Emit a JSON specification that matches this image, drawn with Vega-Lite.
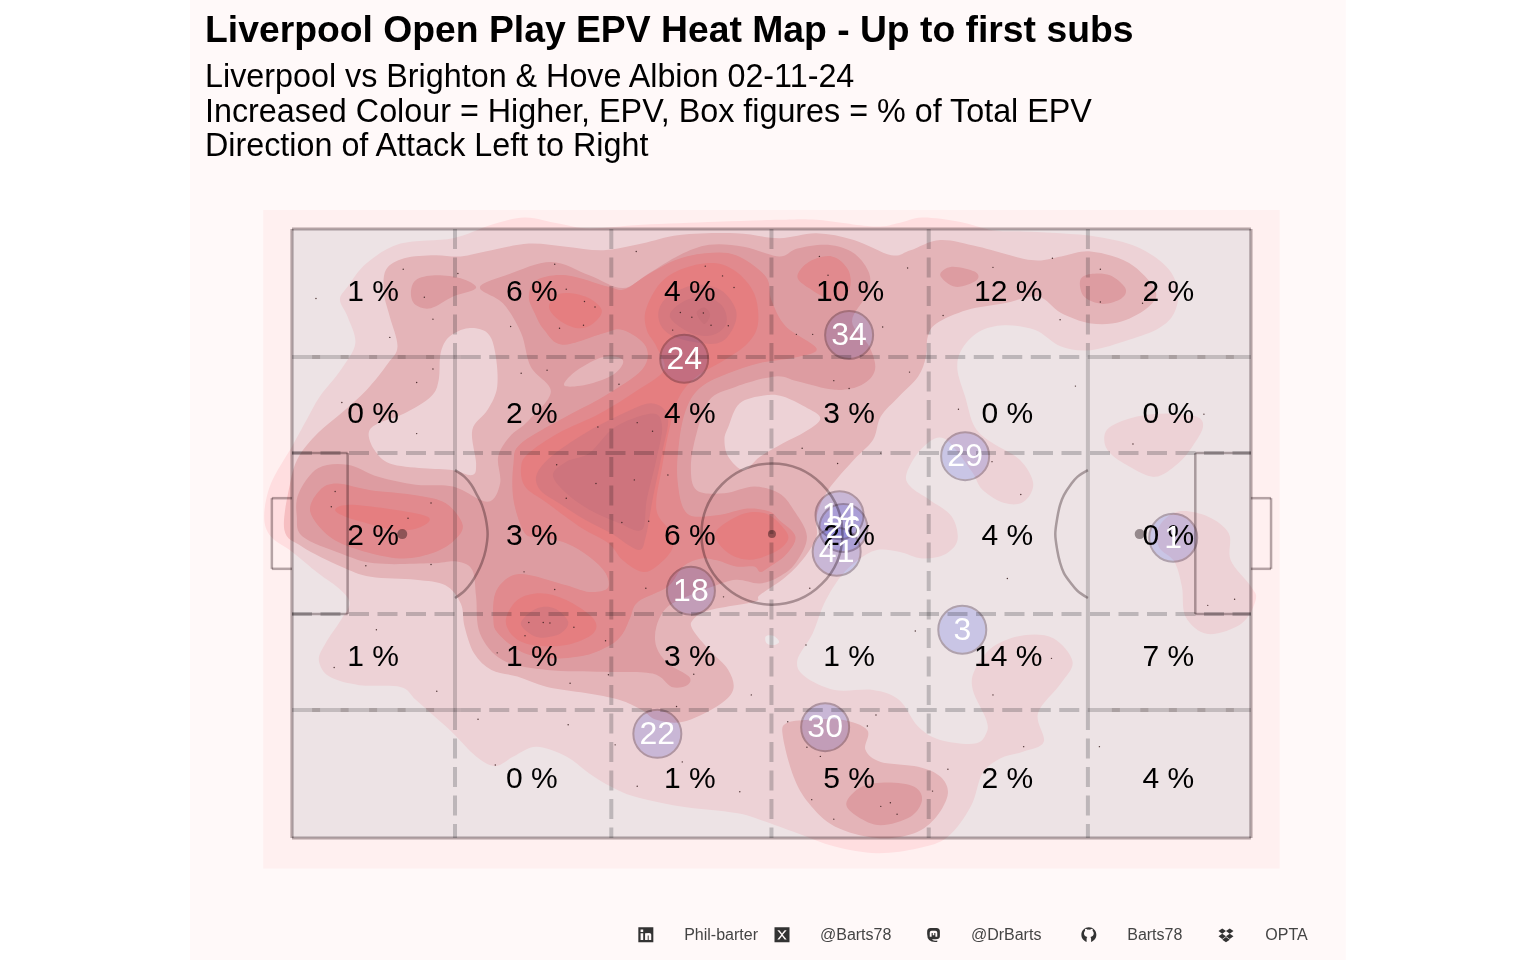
{
  "$schema": "https://vega.github.io/schema/vega-lite/v6.json",
  "width": 1536,
  "height": 960,
  "padding": 0,
  "autosize": {"type": "none"},
  "background": "#ffffff",
  "title": {
    "text": "Liverpool Open Play EPV Heat Map - Up to first subs",
    "subtitle": ["Liverpool vs Brighton & Hove Albion 02-11-24", "Increased Colour = Higher, EPV, Box figures = % of Total EPV", "Direction of Attack Left to Right"],
    "anchor": "start",
    "frame": "group",
    "dx": 205,
    "offset": -163.5,
    "font": "Liberation Sans",
    "fontSize": 37.3,
    "fontWeight": "bold",
    "color": "#000000",
    "subtitleFont": "Liberation Sans",
    "subtitleFontSize": 32.3,
    "subtitleColor": "#000000",
    "subtitleLineHeight": 34.5,
    "subtitlePadding": 10.5
  },
  "config": {"view": {"stroke": null}},
  "datasets": {
    "page": [{"x": -10.64, "x2": 109.9, "y": -20.03, "y2": 137.6}],
    "panel": [{"x": -3, "x2": 103, "y": -5, "y2": 103.1}],
    "pitch": [{"x": 0, "x2": 100, "y": 0, "y2": 100}],
    "heat": [
      {"p": "a", "l": 1, "x": [-2.9,-2.2,0,1.5,2.9,5.1,6.6,5.8,5,5.8,7.8,11.3,16.8,20.8,24.3,27.8,31,36.5,44.3,50.8,54.7,60.6,63.3,65.7,69.6,73.1,76.3,80.2,84.1,88.1,91.2,92.4,92,90.4,87.3,83.3,80.2,77.5,74.3,71.6,69.8,69.4,70.2,71.2,73.1,75.9,77.3,76.3,74.3,72,70.8,68,65.7,64.1,64.5,66.5,68.8,69.4,68,65.7,63.3,61,59,57.2,55.5,54.3,52.7,53.5,56.6,60.6,63.3,65.3,67.6,71.2,72.4,72.4,71,71.2,73.1,76.3,79.4,81.4,80.2,77.8,78.4,76.3,73.9,72,70.8,68.4,65.3,61,56.6,52.7,48.8,46.3,40.4,35.7,33.3,31,28.6,25.5,23.1,21.2,19.2,16.8,14.9,12.9,11.3,7,3.9,2.8,3.5,5.1,6,5.1,2.7,0,-2.2], "y": [52.8,58.2,64.3,68.6,72.5,76.9,81.2,85.6,88.4,90.5,94.4,97.6,98.5,100.7,101.9,100.9,100.1,100.7,101.2,101.5,101.5,100.4,101,101.9,101.2,99.8,99.6,99.3,98.7,97.1,93.8,90,86.2,83.7,81.8,80.1,80.7,83.4,84.2,83.1,80.1,76.9,72.5,67.5,64.8,62.1,58.2,55.2,55,57.2,60.4,65.6,64,59.9,57.7,55.5,52.8,48.9,46.5,45.9,47,47.3,45.6,42.9,38.5,33.6,29.2,26.5,24.3,24.3,22.7,18.3,16.1,15.5,17.2,19.4,24.3,27.6,31.4,33.3,32.8,29,25.4,20.5,15.8,14.2,13.1,10.6,5.2,0.2,-1.7,-2.5,-1.4,0.8,3,4.1,5.2,6.8,8.4,10.6,13.4,15,13.4,11.8,13.4,17.2,19.9,22.7,24.8,25.1,26.5,29.2,32,35.8,38.5,40.7,43.5,47,49.5]},
      {"p": "b", "l": 1, "x": [84.7,85.3,88.1,91.2,94.3,95,93.9,92.4,90,87.3,85.3], "y": [65.4,67.5,69.2,69.7,69.2,67.5,64.3,61.5,59.3,61,63.2]},
      {"p": "c", "l": 1, "x": [92.4,95.5,97.7,97.9,100,100.5,99,95.5,93.2,92.8,92,90.4,90.4], "y": [53.6,52.8,50,45.6,41.3,39.1,35.2,33.5,36.3,41.3,45.4,47.8,51.1]},
      {"p": "d", "l": 2, "x": [9.8,11.7,14.9,17.6,20.8,24.7,28.6,32.5,36.5,40.4,46.3,50.8,54.7,58.6,62.5,64.5,67.6,71.6,77.1,80.2,83.3,87.3,90,89.4,86.5,83.3,80.2,77.8,74.3,70.4,67.2,66.3,66.1,65.3,63.3,61.4,60.6,58.6,55.9,54.7,54.7,53.5,51.5,48.8,48.2,43.5,41.8,41.8,43.5,45.5,46,44.3,40.8,38,36.5,34.1,30.6,26.6,23.5,20.8,19,18,17.6,16,12.9,8.2,5.1,1.1,-0.8,-0.2,0.7,2.7,5.1,7.8,10,11,10.2,9.6], "y": [93.3,95.2,95.7,95.5,96.5,97.6,97.1,96.5,97.6,99,99.3,98.5,99.3,98.2,95.7,96.5,98.2,97.1,94.9,95.5,96.3,94.4,90,87.3,84.8,84.5,86.2,88.9,87.8,86.7,84.5,82.3,79,75.8,72.5,69.2,65.4,62.1,57.1,52.8,49.5,46.2,42.9,39.9,38.8,37.4,35.8,34.2,30.9,27.6,24.3,21.6,19.1,19.4,21,22.7,23.8,24.8,26.5,27.6,30.3,34.7,38.5,41.5,42.4,42.9,44.6,47.8,50.6,58.2,62.6,66.5,69.7,73.6,77.9,80.7,85.6,89.4]},
      {"p": "e", "l": 2, "x": [51.2,51.5,53.9,57.4,60,59.8,61.4,65.3,67.6,68.4,67.2,64.9,61,56.6,53.9,52.3], "y": [16.6,18.8,19.4,19.4,17.7,14.5,12.5,11.7,10.1,7.3,3.5,0.8,0,1.9,5.7,10.1]},
      {"p": "f", "l": 1, "x": [8,8.6,10.2,13.7,16.8,18.8,19.2,18.8,20.4,21.4,21.2,20.4,18.4,16.4,15.5,15.3,14.5,11.7,9], "y": [66.5,63.7,61.5,60.7,60.4,59.6,61.5,67,70.3,74.1,79.6,82.9,83.7,82.3,79.6,75.2,72.5,69.7,68.1]},
      {"p": "g", "l": 1, "x": [45.5,46.7,49.4,51.2,53.5,55.1,53.5,51.2,48.8,47.1,45.5,45.1], "y": [67.5,71.4,72.7,72.5,70.8,68.9,66.7,64.8,62.6,60.4,62.6,65.4]},
      {"p": "z", "l": 0, "x": [49.4,50.2,50.8,50.2,49.5], "y": [33.1,33.2,32.2,31.7,32]},
      {"p": "h", "l": 3, "x": [19.6,22.3,27,31,34.5,37.2,40.4,43.5,47.1,50.8,52.7,55.9,58.6,60.2,60,58.4,60.2,60.8,59.4,56.6,52.7,50.4,46.3,43.5,42.2,41.6,42.2,45.1,48.2,50.8,52.3,53.7,52.5,50.8,48.8,46.3,43.9,42,39.2,38,38,39.2,41.4,41.2,39.6,37.6,32.5,26.6,22,19.6,19.2,18.8,17.2,14.5,8.6,5.1,1.1,0.5,0.7,2.7,5.8,9,12.9,16.8,20.4,21.7,21.5,22.7,24.7,27,24.9,23.9,22], "y": [90.4,92.4,94.6,92.4,90.3,92.7,95.7,97.4,97.1,95.5,96.8,97.4,96,92.7,89.4,84.8,80.7,76.9,74.4,73.6,75,75.8,74.1,71.9,66.5,61,57.1,56.6,57.7,56.6,53.9,49.5,45.1,42.9,41.8,42.4,41.3,40.2,38,34.7,31.4,28.7,26.5,25.1,24.8,27,27.3,27.6,29.2,33.6,39.6,44,45.4,45.1,45.1,46.7,49.5,52.8,56.6,60.7,61.3,59.3,58,57.7,55.2,58.2,62.6,65.9,68.6,73.3,77.4,82.9,87.8]},
      {"p": "i", "l": 3, "x": [12.4,12.9,14.9,17.6,19.2,16.8,14.5,12.9], "y": [89.4,91.6,92.4,91.9,90.3,88.9,87,87.5]},
      {"p": "j", "l": 3, "x": [82.2,83.3,85.3,86.9,86.5,84.5,82.6], "y": [91.6,92.6,92.4,90.3,88.6,87.7,88.9]},
      {"p": "k", "l": 3, "x": [67.6,68.8,71.2,71.4,69.2], "y": [92.4,93.8,93,91.6,90.5]},
      {"p": "m", "l": 3, "x": [57.8,59.4,62.1,64.9,65.7,64.5,61.4,59], "y": [5.7,8.4,9.1,8.4,6.2,3.5,2.1,3.5]},
      {"p": "n", "l": 2, "x": [28.4,29.8,32.5,34.5,33.7,31.4,29], "y": [74.7,76.9,79,78.5,76.3,74.7,74.1]},
      {"p": "o", "l": 4, "x": [24.7,25.5,28.6,33,34.7,37,40,43.1,46.3,49.4,50,51.5,54.7,52.7,48.8,45.5,42.7,41.2,40.4,40.2,41.2,44.3,47.5,49.8,50.8,52.5,51.5,49.6,48.8,48.2,46.3,44.3,42.7,40.8,39.2,36.1,35.3,34.5,33.2,30.6,27,23.9,21.5,21,21.2,22.7,24.7,28.6,31,32.9,32.7,31,28.6,25.9,24.3,23.1,23.1,23.9,28.6,32.5,36.5,36.9,34.5,32.5,28.2,26.3,25.3], "y": [88.9,91.6,92.4,90.5,90.1,92.4,94.9,96,95.7,92.2,88.3,84,80.4,79,78,76.3,74.1,70.8,65.4,58.8,53.3,53,54.1,53.6,52.2,49.5,46.5,44.3,43.7,44.6,44.6,45.6,45.9,44.6,41.3,38.8,36.3,33.6,31.7,30,29.5,30.6,33.6,35.8,40.2,42.9,43.2,41.5,40.4,41,43.5,46.2,48.4,49.5,50,55.5,61.5,64.8,69.2,72.5,76.9,80.7,83.4,82.9,81,83.4,86.2]},
      {"p": "q", "l": 4, "x": [1.9,2.9,4.7,8.2,12.9,16,17.8,16.8,14.5,11.3,7,3.9], "y": [53.6,57.1,58.2,57.1,56.3,55,51.4,48.7,46.7,45.9,47.3,49.5]},
      {"p": "r", "l": 4, "x": [52.7,53.9,56.3,58,58.1,56.3,53.9], "y": [92.2,94.6,95.5,93.3,90,88.4,90.3]},
      {"p": "s", "l": 5, "x": [36.9,38.4,40.8,43.9,46.3,48.2,48.6,47.5,45.1,42.2,40.4,39.4,38.6,38,39.6,39.6,38,36.5,34.5,33,30.2,26.6,24.3,23.9,24.7,27.8,32.1,36.1,38.8,38,37], "y": [86.7,91.1,93.5,94.4,93,89.4,84.5,81.2,78.5,75.8,72.5,67.5,61,53.9,50,47.3,44.6,43.7,45.6,48.4,50.9,55,57.7,61,63.2,66.5,69.7,73.6,76.9,80.7,83.4]},
      {"p": "t", "l": 5, "x": [26.8,28,30.6,32.3,31.4,29.8,27.8], "y": [87.3,89.4,88.9,86.7,84.5,83.7,85.1]},
      {"p": "u", "l": 5, "x": [22.3,23.5,25.9,28.6,31.4,31.4,28.6,25.1,23.1], "y": [35.8,39.1,40.2,39.1,36.1,33.6,31.7,31.7,33.1]},
      {"p": "v", "l": 5, "x": [4.5,5.8,9.8,13.7,14.3,12.9,10.6,7.8,5.5], "y": [53.9,54.7,54.1,53,52,50.8,50.6,51.7,52.8]},
      {"p": "w", "l": 5, "x": [44.1,45.7,47.8,49.8,51.4,51.7,50.4,47.8,45.5], "y": [49.8,52.2,53.5,53,50.6,48.9,47,45.7,46.8]},
      {"p": "aa", "l": 6, "x": [25.5,27,30.6,34.5,37.5,39.2,38.6,37.6,36.9,36.1,33.3,30.6,27.8,25.9], "y": [59.6,62.6,66.5,69.7,71.4,69.2,63.2,55.5,49.5,47.3,50,52.2,55,57.1]},
      {"p": "ab", "l": 6, "x": [38.2,39.2,42,44.7,46.3,45.9,44.3,40.8,38.8], "y": [86.2,88.9,90.8,90,86.7,83.4,81.2,81.8,83.4]},
      {"p": "ac", "l": 6, "x": [23.9,25.5,27.4,28.8,28,25.9,24.5], "y": [35.5,37.7,37.7,35.5,33.6,32.9,33.9]},
      {"p": "ad", "l": 7, "x": [27.2,28.6,31,33.7,37.6,38.6,38,37,36.5,34.1,31,28.6], "y": [59.6,61.8,63.2,67.5,69.7,67.5,62.1,55.5,50.6,51.7,53.9,56.6]},
      {"p": "ae", "l": 7, "x": [39.4,40.8,43.1,44.9,45.3,43.9,41.6], "y": [85.6,88.1,88.9,87.3,84.5,82.6,82.9]},
      {"p": "af", "l": 8, "x": [42.2,43,43.6,43], "y": [86.2,87.1,85.9,84.4]}
    ],
    "outline": [
      {"x": 0, "x2": 100, "y": 0, "y2": 0},
      {"x": 0, "x2": 100, "y": 100, "y2": 100},
      {"x": 0, "x2": 0, "y": 0, "y2": 100},
      {"x": 100, "x2": 100, "y": 0, "y2": 100}
    ],
    "boxes": [
      {"x": 0, "x2": 5.8, "y": 63.2, "y2": 63.2},
      {"x": 0, "x2": 5.8, "y": 36.8, "y2": 36.8},
      {"x": 5.8, "x2": 5.8, "y": 36.8, "y2": 63.2},
      {"x": 100, "x2": 94.2, "y": 63.2, "y2": 63.2},
      {"x": 100, "x2": 94.2, "y": 36.8, "y2": 36.8},
      {"x": 94.2, "x2": 94.2, "y": 36.8, "y2": 63.2},
      {"x": -2.1, "x2": 0, "y": 55.8, "y2": 55.8},
      {"x": -2.1, "x2": 0, "y": 44.2, "y2": 44.2},
      {"x": -2.1, "x2": -2.1, "y": 44.2, "y2": 55.8},
      {"x": 100, "x2": 102.1, "y": 55.8, "y2": 55.8},
      {"x": 100, "x2": 102.1, "y": 44.2, "y2": 44.2},
      {"x": 102.1, "x2": 102.1, "y": 44.2, "y2": 55.8}
    ],
    "zones": [
      {"x": 17, "x2": 17, "y": 100, "y2": 79},
      {"x": 17, "x2": 17, "y": 21, "y2": 0},
      {"x": 33.3, "x2": 33.3, "y": 100, "y2": 0},
      {"x": 50, "x2": 50, "y": 100, "y2": 0},
      {"x": 66.4, "x2": 66.4, "y": 100, "y2": 0},
      {"x": 83, "x2": 83, "y": 100, "y2": 79},
      {"x": 83, "x2": 83, "y": 21, "y2": 0},
      {"x": 17.6, "x2": 83, "y": 79, "y2": 79},
      {"x": 0, "x2": 100, "y": 63.2, "y2": 63.2},
      {"x": 0, "x2": 100, "y": 36.8, "y2": 36.8},
      {"x": 17.6, "x2": 83, "y": 21, "y2": 21}
    ],
    "zoneEdges": [
      {"x": 17, "x2": 17, "y": 79, "y2": 21},
      {"x": 83, "x2": 83, "y": 79, "y2": 21},
      {"x": 0, "x2": 17.6, "y": 79, "y2": 79},
      {"x": 0, "x2": 17.6, "y": 21, "y2": 21},
      {"x": 83, "x2": 100, "y": 79, "y2": 79},
      {"x": 83, "x2": 100, "y": 21, "y2": 21}
    ],
    "zoneBits": [
      {"x": 2.1, "x2": 17, "y": 79, "y2": 79},
      {"x": 2.1, "x2": 17, "y": 21, "y2": 21},
      {"x": 85.5, "x2": 100, "y": 79, "y2": 79},
      {"x": 85.5, "x2": 100, "y": 21, "y2": 21}
    ],
    "arcs": [
      {"side": "left", "x": [17,18,18.7,19.3,19.8,20.2,20.4,20.2,19.8,19.3,18.7,18,17], "y": [60.4,59.3,58,56.3,54.7,52.5,49.9,47.3,45.2,43.5,41.9,40.6,39.4]},
      {"side": "right", "x": [83,81.9,81.2,80.5,80.1,79.8,79.6,79.8,80.1,80.5,81.2,81.9,83], "y": [60.4,59.3,58,56.3,54.7,52.5,49.9,47.3,45.2,43.5,41.9,40.6,39.4]}
    ],
    "centre": [{"x": 50.05, "y": 49.9}],
    "spots": [{"x": 11.5, "y": 49.9}, {"x": 88.4, "y": 49.9}],
    "centreSpot": [{"x": 50.05, "y": 49.9}],
    "dots": [
      {"x":2.5,"y":88.6},{"x":11.6,"y":93.4},{"x":17.3,"y":92.7},{"x":13.8,"y":88.8},{"x":14.7,"y":85.2},{"x":10.2,"y":82.2},{"x":14.7,"y":77},{"x":13,"y":74.8},{"x":5.2,"y":71.5},{"x":13,"y":66.4},{"x":4.5,"y":56.9},{"x":4.1,"y":54.4},{"x":12.1,"y":52.5},{"x":14.5,"y":55},{"x":27.4,"y":94.2},{"x":28.6,"y":90.1},{"x":30.5,"y":88.1},{"x":31.6,"y":87.2},{"x":30.4,"y":84.2},{"x":27.9,"y":83.7},{"x":22.8,"y":84},{"x":23.9,"y":76.3},{"x":26.6,"y":76.8},{"x":34.1,"y":74.5},{"x":35.9,"y":96.3},{"x":43.1,"y":93.9},{"x":44.9,"y":92.3},{"x":46.1,"y":90.4},{"x":40.5,"y":86.3},{"x":41.7,"y":85.5},{"x":42.9,"y":86.2},{"x":43.7,"y":84.2},{"x":45.5,"y":84.1},{"x":39.7,"y":83.4},{"x":36,"y":68.2},{"x":37.6,"y":66.8},{"x":31.9,"y":67.5},{"x":27.6,"y":61.3},{"x":31.7,"y":58.2},{"x":35.7,"y":58.8},{"x":28.6,"y":55.8},{"x":34.4,"y":51.8},{"x":37.2,"y":52},{"x":39.2,"y":59.6},
      {"x":8.8,"y":34.2},{"x":4.4,"y":28},{"x":15.1,"y":24.1},{"x":19.4,"y":19.5},{"x":28.8,"y":18.6},{"x":21.2,"y":12},{"x":36,"y":8.5},{"x":46.7,"y":7.6},{"x":33.7,"y":15.3},{"x":40.7,"y":12.5},{"x":40.1,"y":21.6},{"x":24.2,"y":43.7},{"x":27.4,"y":40.8},{"x":29,"y":25.4},{"x":33,"y":26.8},{"x":41.9,"y":26.9},{"x":32.7,"y":32.4},{"x":24.7,"y":35.4},{"x":26.2,"y":35.4},{"x":26.9,"y":35.3},{"x":24.3,"y":33.2},{"x":29.4,"y":34.6},{"x":21.4,"y":30.4},{"x":14.5,"y":44.9},{"x":7.7,"y":44.7},{"x":36.9,"y":41},{"x":45,"y":39.6},{"x":47.9,"y":23.5},
      {"x":55,"y":95.5},{"x":55.9,"y":92.4},{"x":64.2,"y":93.6},{"x":61.6,"y":83.9},{"x":52.6,"y":82.7},{"x":54.3,"y":82.7},{"x":64.4,"y":76.5},{"x":56.5,"y":75.1},{"x":58.1,"y":73.8},{"x":67.9,"y":85.8},{"x":73.1,"y":93.7},{"x":79.3,"y":95.2},{"x":84.3,"y":93.4},{"x":84.3,"y":88},{"x":88.7,"y":87.8},{"x":80.1,"y":85.1},{"x":81.7,"y":74.2},{"x":69.5,"y":70.4},{"x":95.1,"y":69.6},{"x":87.7,"y":64.7},{"x":73,"y":61.8},{"x":76,"y":56.4},{"x":56.9,"y":61.5},{"x":61.4,"y":63.2},{"x":53.2,"y":64},
      {"x":54,"y":41},{"x":65,"y":34},{"x":53.6,"y":31.7},{"x":74.6,"y":42.6},{"x":98.3,"y":39.2},{"x":95.5,"y":38.2},{"x":79.2,"y":29.5},{"x":73.1,"y":23.5},{"x":76.3,"y":15},{"x":68.4,"y":11.3},{"x":66.8,"y":7.7},{"x":60.9,"y":20.2},{"x":60,"y":18.4},{"x":51.7,"y":19.1},{"x":53.7,"y":14.9},{"x":55.1,"y":13.4},{"x":54.2,"y":6.3},{"x":56.5,"y":3.1},{"x":61.4,"y":5.2},{"x":62.4,"y":5.8},{"x":63.1,"y":3.9},{"x":84.2,"y":15}
    ],
    "zonePct": [
      {"x": 8.45, "y": 89.65, "label": "1 %"}, {"x": 25, "y": 89.65, "label": "6 %"}, {"x": 41.5, "y": 89.65, "label": "4 %"}, {"x": 58.2, "y": 89.65, "label": "10 %"}, {"x": 74.7, "y": 89.65, "label": "12 %"}, {"x": 91.4, "y": 89.65, "label": "2 %"},
      {"x": 8.45, "y": 69.65, "label": "0 %"}, {"x": 25, "y": 69.65, "label": "2 %"}, {"x": 41.5, "y": 69.65, "label": "4 %"}, {"x": 58.1, "y": 69.65, "label": "3 %"}, {"x": 74.6, "y": 69.65, "label": "0 %"}, {"x": 91.4, "y": 69.65, "label": "0 %"},
      {"x": 8.45, "y": 49.65, "label": "2 %"}, {"x": 25, "y": 49.65, "label": "3 %"}, {"x": 41.5, "y": 49.65, "label": "6 %"}, {"x": 58.1, "y": 49.65, "label": "2 %"}, {"x": 74.6, "y": 49.65, "label": "4 %"}, {"x": 91.4, "y": 49.65, "label": "0 %"},
      {"x": 8.45, "y": 29.65, "label": "1 %"}, {"x": 25, "y": 29.65, "label": "1 %"}, {"x": 41.5, "y": 29.65, "label": "3 %"}, {"x": 58.1, "y": 29.65, "label": "1 %"}, {"x": 74.7, "y": 29.65, "label": "14 %"}, {"x": 91.4, "y": 29.65, "label": "7 %"},
      {"x": 25, "y": 9.65, "label": "0 %"}, {"x": 41.5, "y": 9.65, "label": "1 %"}, {"x": 58.1, "y": 9.65, "label": "5 %"}, {"x": 74.6, "y": 9.65, "label": "2 %"}, {"x": 91.4, "y": 9.65, "label": "4 %"}
    ],
    "players": [
      {"x": 40.9, "y": 78.7, "shirt": "24"},
      {"x": 58.1, "y": 82.6, "shirt": "34"},
      {"x": 70.2, "y": 62.7, "shirt": "29"},
      {"x": 57.1, "y": 53, "shirt": "14"},
      {"x": 57.5, "y": 50.9, "shirt": "26"},
      {"x": 56.8, "y": 47, "shirt": "41"},
      {"x": 91.9, "y": 49.3, "shirt": "1"},
      {"x": 41.6, "y": 40.6, "shirt": "18"},
      {"x": 69.9, "y": 34.2, "shirt": "3"},
      {"x": 38.1, "y": 17.1, "shirt": "22"},
      {"x": 55.6, "y": 18.2, "shirt": "30"}
    ],
    "captions": [
      {"x": 40.9, "y": -16, "text": "Phil-barter"},
      {"x": 55.06, "y": -16, "text": "@Barts78"},
      {"x": 70.8, "y": -16, "text": "@DrBarts"},
      {"x": 87.1, "y": -16, "text": "Barts78"},
      {"x": 101.5, "y": -16, "text": "OPTA"}
    ],
    "icons": [
      {"x": 36.9, "y": -15.9, "icon": "linkedin"},
      {"x": 51.1, "y": -15.9, "icon": "x"},
      {"x": 66.9, "y": -15.9, "icon": "mastodon"},
      {"x": 83.1, "y": -15.9, "icon": "github"},
      {"x": 97.4, "y": -15.9, "icon": "dropbox"}
    ]
  },
  "encoding": {
    "x": {"field": "x", "type": "quantitative", "axis": null, "scale": {"domain": [-30.45, 129.73], "nice": false, "zero": false}},
    "y": {"field": "y", "type": "quantitative", "axis": null, "scale": {"domain": [-20.03, 137.6], "nice": false, "zero": false}}
  },
  "layer": [
    {"data": {"name": "page"}, "mark": {"type": "rect", "fill": "#FFF9F9"}, "encoding": {"x2": {"field": "x2"}, "y2": {"field": "y2"}}},
    {"data": {"name": "panel"}, "mark": {"type": "rect", "fill": "#FFF0F0"}, "encoding": {"x2": {"field": "x2"}, "y2": {"field": "y2"}}},
    {
      "data": {"name": "heat"},
      "transform": [{"flatten": ["x", "y"]}],
      "mark": {"type": "line", "interpolate": "cardinal-closed", "strokeWidth": 0, "clip": false},
      "encoding": {
        "fill": {"field": "l", "type": "ordinal", "legend": null, "scale": {"domain": [0, 1, 2, 3, 4, 5, 6, 7, 8], "range": ["#FFF4F4", "#FFDEE0", "#F6BEC1", "#EEA5A8", "#F29194", "#F78586", "#E88085", "#DE7A83", "#D7767E"]}},
        "detail": {"field": "p"},
        "order": {"value": null}
      }
    },
    {"data": {"name": "pitch"}, "mark": {"type": "rect", "fill": "#EDF2F4", "blend": "multiply"}, "encoding": {"x2": {"field": "x2"}, "y2": {"field": "y2"}}},
    {"data": {"name": "dots"}, "mark": {"type": "circle", "size": 2, "color": "#3a2020", "opacity": 0.9}},
    {"data": {"name": "boxes"}, "mark": {"type": "rule", "color": "#B5ADAF", "strokeWidth": 2.5, "blend": "multiply"}, "encoding": {"x2": {"field": "x2"}, "y2": {"field": "y2"}}},
    {"data": {"name": "outline"}, "mark": {"type": "rule", "color": "#B5ADAF", "strokeWidth": 3.2, "blend": "multiply"}, "encoding": {"x2": {"field": "x2"}, "y2": {"field": "y2"}}},
    {"data": {"name": "zones"}, "mark": {"type": "rule", "color": "#CCCDCE", "strokeWidth": 4, "strokeDash": [20, 8.5], "blend": "multiply"}, "encoding": {"x2": {"field": "x2"}, "y2": {"field": "y2"}}},
    {"data": {"name": "zoneEdges"}, "mark": {"type": "rule", "color": "#D2D2D3", "strokeWidth": 4, "blend": "multiply"}, "encoding": {"x2": {"field": "x2"}, "y2": {"field": "y2"}}},
    {"data": {"name": "zoneBits"}, "mark": {"type": "rule", "color": "#DEDADA", "strokeWidth": 4, "strokeDash": [8, 20.5], "blend": "multiply"}, "encoding": {"x2": {"field": "x2"}, "y2": {"field": "y2"}}},
    {
      "data": {"name": "arcs"},
      "transform": [{"flatten": ["x", "y"]}],
      "mark": {"type": "line", "interpolate": "cardinal", "color": "#B5ADAF", "strokeWidth": 2.5, "blend": "multiply"},
      "encoding": {"detail": {"field": "side"}, "order": {"value": null}}
    },
    {"data": {"name": "centre"}, "mark": {"type": "point", "shape": "circle", "filled": false, "size": 19881, "color": "#B5ADAF", "strokeWidth": 2.5, "opacity": 1, "blend": "multiply"}},
    {"data": {"name": "spots"}, "mark": {"type": "circle", "size": 100, "color": "#A09A9C", "opacity": 1, "blend": "multiply"}},
    {"data": {"name": "centreSpot"}, "mark": {"type": "circle", "size": 64, "color": "#A09A9C", "opacity": 1, "blend": "multiply"}},
    {"data": {"name": "zonePct"}, "mark": {"type": "text", "font": "Liberation Sans", "fontSize": 30, "color": "#000000", "align": "center", "baseline": "middle"}, "encoding": {"text": {"field": "label"}}},
    {"data": {"name": "players"}, "mark": {"type": "circle", "size": 2304, "fill": "#D9DEFF", "stroke": "#BDB5C0", "strokeWidth": 2, "opacity": 1, "blend": "multiply"}},
    {"data": {"name": "players"}, "mark": {"type": "text", "font": "Liberation Sans", "fontSize": 32, "color": "#FFFFFF", "align": "center", "baseline": "middle"}, "encoding": {"text": {"field": "shirt"}}},
    {"data": {"name": "captions"}, "mark": {"type": "text", "font": "Liberation Sans", "fontSize": 16, "color": "#444444", "align": "left", "baseline": "middle"}, "encoding": {"text": {"field": "text"}}},
    {
      "data": {"name": "icons"},
      "mark": {"type": "point", "filled": true, "size": 225, "color": "#333333", "opacity": 1},
      "encoding": {
        "shape": {"field": "icon", "type": "nominal", "legend": null, "scale": {
          "domain": ["linkedin", "x", "mastodon", "github", "dropbox"],
          "range": [
            "M-1 -1H1V1H-1Z M-.7 -.2V.7H-.35V-.2Z M-.7 -.7V-.38H-.35V-.7Z M-.1 -.2V.7H.25V.1H.38V.7H.72V-.05Q.72 -.25 .45 -.25Z",
            "M-1 -1H1V1H-1Z M-.62 -.62L-.1 0L-.62 .62H-.35L0 .17L.35 .62H.62L.1 0L.62 -.62H.35L0 -.17L-.35 -.62Z",
            "M-.85 -.4Q-.85 -.9 -.4 -.9H.4Q.85 -.9 .85 -.4V.2Q.85 .6 .3 .6H-.2Q-.1 .85 .5 .75V.95Q-.85 1.1 -.85 -.1Z M-.5 .25H-.25V-.25H-.1V.05H.1V-.25H.25V.25H.5V-.3Q.5 -.55 .25 -.55H-.25Q-.5 -.55 -.5 -.3Z",
            "M0 -1C.55 -1 1 -.55 1 0C1 .45 .7 .82 .3 .95V.55Q.3 .35 .2 .28Q.65 .22 .65 -.2Q.65 -.42 .5 -.55Q.55 -.72 .47 -.8Q.3 -.8 .15 -.68Q0 -.72 -.15 -.68Q-.3 -.8 -.47 -.8Q-.55 -.72 -.5 -.55Q-.65 -.42 -.65 -.2Q-.65 .22 -.2 .28Q-.3 .35 -.3 .55V.95C-.7 .82 -1 .45 -1 0C-1 -.55 -.55 -1 0 -1Z",
            "M-.5 -.85L0 -.5L-.5 -.15L-1 -.5Z M.5 -.85L1 -.5L.5 -.15L0 -.5Z M-.5 -.15L0 .2L-.5 .55L-1 .2Z M.5 -.15L1 .2L.5 .55L0 .2Z M0 .3L.5 .65L0 1L-.5 .65Z"
          ]
        }}
      }
    }
  ]
}
